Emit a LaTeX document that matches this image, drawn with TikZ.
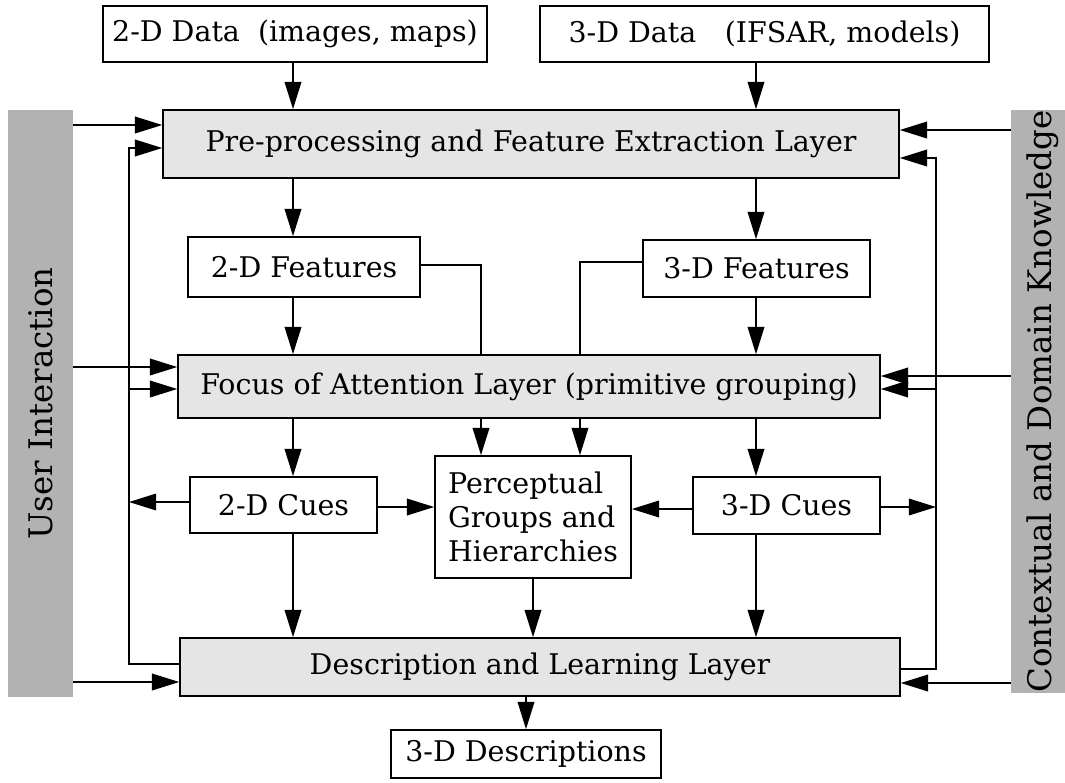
\documentclass[tikz,border=0pt]{standalone}
\usepackage{fontspec}
\setmainfont{DejaVu Serif}
\usetikzlibrary{shapes,arrows}
\usetikzlibrary{arrows.meta}
\tikzset{
  box/.style={draw, line width=1pt, fill=white, inner sep=2pt, font=\fontsize{16.2}{19.5}\selectfont},
  layer/.style={box, fill=gray!20},
  sidebar/.style={fill=gray!60, inner sep=0pt, rotate=90, font=\fontsize{18.5}{22}\selectfont},
  flow/.style={line width=0.8pt, -{Triangle[length=15.5pt,width=9.5pt]}},
  link/.style={line width=0.8pt},
}

\begin{document}
\begin{tikzpicture}[x=0.02cm,y=-0.02cm]
\useasboundingbox (0,0) rectangle (1065,782);

% columns and buses
\coordinate (c2) at (293,0);
\coordinate (c3) at (756,0);
\coordinate (m2) at (481,0);
\coordinate (m3) at (580,0);
\coordinate (lbus) at (129,0);
\coordinate (rbus) at (936,0);

\node[box, minimum width=7.68cm, minimum height=1.12cm] (d2) at (295,34) {2-D Data~ (images, maps)};
\node[box, minimum width=8.98cm, minimum height=1.12cm] (d3) at (764.5,34) {3-D Data\quad(IFSAR, models)};
\node[layer, minimum width=14.72cm, minimum height=1.36cm] (pre) at (531,144) {Pre-processing and Feature Extraction Layer};
\node[box, minimum width=4.64cm, minimum height=1.2cm] (f2) at (304,267) {2-D Features};
\node[box, minimum width=4.54cm, minimum height=1.14cm] (f3) at (756.5,268.5) {3-D Features};
\node[layer, minimum width=14.04cm, minimum height=1.26cm] (focus) at (529,386.5) {Focus of Attention Layer (primitive grouping)};
\node[box, minimum width=3.74cm, minimum height=1.12cm] (cue2) at (283.5,505) {2-D Cues};
\node[box, minimum width=3.92cm, minimum height=2.44cm, align=left] (perc) at (533,517) {Perceptual\\Groups and\\Hierarchies};
\node[box, minimum width=3.74cm, minimum height=1.14cm] (cue3) at (786.5,505.5) {3-D Cues};
\node[layer, minimum width=14.4cm, minimum height=1.16cm] (desc) at (540,667) {Description and Learning Layer};
\node[box, minimum width=5.4cm, minimum height=0.96cm] (out) at (526,754) {3-D Descriptions};
\node[sidebar, minimum width=11.74cm, minimum height=1.3cm] (user) at (40.5,403.5) {User Interaction};
\node[sidebar, minimum width=11.66cm, minimum height=1.28cm] (ctx) at (1043,401.5) {Contextual and Domain Knowledge};

% data flow
\draw[flow] (d2.south -| c2) -- (pre.north -| c2);
\draw[flow] (d3.south -| c3) -- (pre.north -| c3);
\draw[flow] (pre.south -| c2) -- (f2.north -| c2);
\draw[flow] (pre.south -| c3) -- (f3.north -| c3);
\draw[flow] (f2.south -| c2) -- (focus.north -| c2);
\draw[flow] (f3.south -| c3) -- (focus.north -| c3);
\draw[link] (f2.east |- 0,265) -| (focus.north -| m2);
\draw[link] (f3.west |- 0,262) -| (focus.north -| m3);
\draw[flow] (focus.south -| c2) -- (cue2.north -| c2);
\draw[flow] (focus.south -| m2) -- (perc.north -| m2);
\draw[flow] (focus.south -| m3) -- (perc.north -| m3);
\draw[flow] (focus.south -| c3) -- (cue3.north -| c3);
\draw[flow] (cue2.east |- 0,507) -- (perc.west |- 0,507);
\draw[flow] (cue3.west |- 0,509) -- (perc.east |- 0,509);
\draw[flow] (cue2.west |- 0,502) -- (lbus |- 0,502);
\draw[flow] (cue3.east |- 0,507) -- (rbus |- 0,507);
\draw[flow] (cue2.south -| c2) -- (desc.north -| c2);
\draw[flow] (perc.south) -- (perc.south |- desc.north);
\draw[flow] (cue3.south -| c3) -- (desc.north -| c3);
\draw[flow] (out.north |- desc.south) -- (out.north);

% feedback
\draw[flow] (desc.west |- 0,664) -| (lbus |- 0,148) -- (pre.west |- 0,148);
\draw[flow] (lbus |- 0,389) -- (focus.west |- 0,389);
\draw[flow] (desc.east |- 0,669) -| (rbus |- 0,158) -- (pre.east |- 0,158);
\draw[flow] (rbus |- 0,389) -- (focus.east |- 0,389);

% side inputs
\draw[flow] (user.south |- 0,125) -- (pre.west |- 0,125);
\draw[flow] (user.south |- 0,367) -- (focus.west |- 0,367);
\draw[flow] (user.south |- 0,682) -- (desc.west |- 0,682);
\draw[flow] (ctx.north |- 0,130) -- (pre.east |- 0,130);
\draw[flow] (ctx.north |- 0,376) -- (focus.east |- 0,376);
\draw[flow] (ctx.north |- 0,683) -- (desc.east |- 0,683);

\end{tikzpicture}
\end{document}
